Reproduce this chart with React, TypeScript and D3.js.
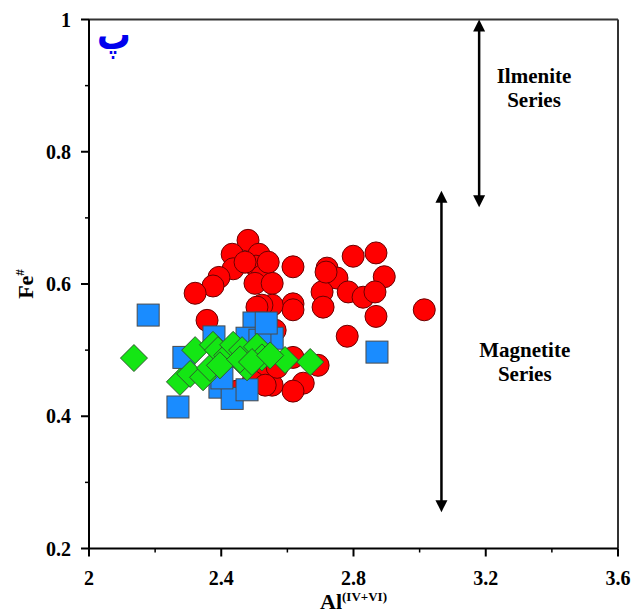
import React from "react";
import * as d3 from "d3";

// ---- data ----
const redPoints: [number, number][] = [
  [2.481, 0.666], [2.433, 0.645], [2.514, 0.645], [2.436, 0.623], [2.505, 0.627],
  [2.523, 0.612], [2.393, 0.61], [2.375, 0.597], [2.321, 0.586], [2.502, 0.601],
  [2.617, 0.626], [2.799, 0.642], [2.868, 0.647], [2.893, 0.611], [2.72, 0.624],
  [2.75, 0.609], [2.705, 0.588], [2.708, 0.565], [2.784, 0.588], [2.829, 0.58],
  [2.865, 0.588], [2.868, 0.551], [3.014, 0.561], [2.781, 0.521], [2.617, 0.57],
  [2.617, 0.561], [2.554, 0.601], [2.554, 0.568], [2.523, 0.568], [2.563, 0.53],
  [2.617, 0.489], [2.693, 0.477], [2.648, 0.45], [2.617, 0.438], [2.554, 0.447],
  [2.523, 0.465], [2.569, 0.474], [2.448, 0.438], [2.496, 0.452], [2.533, 0.447],
  [2.357, 0.545], [2.508, 0.565], [2.717, 0.618], [2.472, 0.633], [2.542, 0.633],
  [2.526, 0.503],
];
const bluePoints: [number, number][] = [
  [2.179, 0.553], [2.287, 0.489], [2.269, 0.414], [2.871, 0.497], [2.554, 0.518],
  [2.499, 0.541], [2.378, 0.52], [2.478, 0.518], [2.517, 0.515], [2.396, 0.444],
  [2.433, 0.427], [2.478, 0.44], [2.402, 0.458], [2.466, 0.491], [2.536, 0.541],
];
const greenPoints: [number, number][] = [
  [2.136, 0.488], [2.275, 0.452], [2.321, 0.5], [2.306, 0.464], [2.345, 0.459],
  [2.366, 0.473], [2.375, 0.508], [2.39, 0.5], [2.418, 0.492], [2.396, 0.477],
  [2.436, 0.508], [2.463, 0.5], [2.478, 0.474], [2.508, 0.505], [2.523, 0.489],
  [2.593, 0.485], [2.669, 0.482], [2.457, 0.486], [2.493, 0.482], [2.548, 0.492],
];
const xTicks = [2, 2.4, 2.8, 3.2, 3.6];
const xMinor = [2.2, 2.6, 3.0, 3.4];
const yTicks = [0.2, 0.4, 0.6, 0.8, 1];
const yMinor = [0.3, 0.5, 0.7, 0.9];
const xTickLabels = ["2", "2.4", "2.8", "3.2", "3.6"];
const yTickLabels = ["0.2", "0.4", "0.6", "0.8", "1"];
// double arrows: [x, yStart, yEnd]
const arrows: [number, number, number][] = [
  [3.18, 1.0, 0.716],
  [3.066, 0.741, 0.255],
];
const seriesLabels = [
  { x: 3.346, y: 0.904, lines: ["Ilmenite", "Series"] },
  { x: 3.318, y: 0.49, lines: ["Magnetite", "Series"] },
];

const W = 641;
const H = 614;
const L = 89, R = 618, T = 19.5, B = 548.5;

export default function App() {
  const x = d3.scaleLinear().domain([2, 3.6]).range([L, R]);
  const y = d3.scaleLinear().domain([0.2, 1]).range([B, T]);
  const serif = "'Liberation Serif', 'Times New Roman', Times, serif";
  const sq = 11;
  const dm = 13.5;
  const diamond = (cx: number, cy: number) =>
    `M${cx},${cy - dm}L${cx + dm},${cy}L${cx},${cy + dm}L${cx - dm},${cy}Z`;
  const ts = { fontFamily: serif, fontWeight: 700 } as React.CSSProperties;

  return (
    <svg
      width={W}
      height={H}
      style={{ position: "absolute", left: 0, top: 0, background: "#fff" }}
    >
      <rect x={0} y={0} width={W} height={H} fill="#fff" />
      {/* markers */}
      {redPoints.map((d, i) => (
        <circle key={"r" + i} cx={x(d[0])} cy={y(d[1])} r={11} fill="#ff0000" stroke="#6b0000" strokeWidth={1} />
      ))}
      {bluePoints.map((d, i) => (
        <rect key={"b" + i} x={x(d[0]) - sq} y={y(d[1]) - sq} width={sq * 2} height={sq * 2} fill="#1a8cff" stroke="#4a4a4a" strokeWidth={1} />
      ))}
      {greenPoints.map((d, i) => (
        <path key={"g" + i} d={diamond(x(d[0]), y(d[1]))} fill="#14e614" stroke="#2d5a2d" strokeWidth={1} />
      ))}

      {/* frame */}
      <line x1={L} x2={R} y1={T} y2={T} stroke="#333" strokeWidth={2} />
      <line x1={R} x2={R} y1={T} y2={B} stroke="#333" strokeWidth={2} />
      <line x1={L} x2={L} y1={T} y2={B} stroke="#000" strokeWidth={2} />
      <line x1={L} x2={R} y1={B} y2={B} stroke="#000" strokeWidth={2} />

      {/* x ticks */}
      {xTicks.map((t) => (
        <line key={"xt" + t} x1={x(t)} x2={x(t)} y1={B} y2={B + 8} stroke="#000" strokeWidth={2} />
      ))}
      {xMinor.map((t) => (
        <line key={"xm" + t} x1={x(t)} x2={x(t)} y1={B} y2={B + 4} stroke="#000" strokeWidth={1.5} />
      ))}
      {xTicks.map((t, i) => (
        <text key={"xl" + t} x={x(t)} y={585} textAnchor="middle" style={ts} fontSize={20}>
          {xTickLabels[i]}
        </text>
      ))}
      {/* y ticks */}
      {yTicks.map((t) => (
        <line key={"yt" + t} x1={L - 8} x2={L} y1={y(t)} y2={y(t)} stroke="#000" strokeWidth={2} />
      ))}
      {yMinor.map((t) => (
        <line key={"ym" + t} x1={L - 4} x2={L} y1={y(t)} y2={y(t)} stroke="#000" strokeWidth={1.5} />
      ))}
      {yTicks.map((t, i) => (
        <text key={"yl" + t} x={71} y={y(t) + 7} textAnchor="end" style={ts} fontSize={20}>
          {yTickLabels[i]}
        </text>
      ))}

      {/* axis titles */}
      <text x={(L + R) / 2} y={609} textAnchor="middle" style={ts} fontSize={22}>
        Al<tspan fontSize={13} dy={-8}>(IV+VI)</tspan>
      </text>
      <text
        transform={`translate(33, ${(T + B) / 2}) rotate(-90)`}
        textAnchor="middle"
        style={ts}
        fontSize={22}
      >
        Fe<tspan fontSize={13} dy={-9}>#</tspan>
      </text>

      {/* arrows */}
      {arrows.map((a, i) => {
        const ax = x(a[0]);
        const y0 = y(a[1]);
        const y1 = y(a[2]);
        const hl = 12, hw = 6;
        return (
          <g key={"a" + i}>
            <line x1={ax} x2={ax} y1={y0 + hl - 1} y2={y1 - hl + 1} stroke="#000" strokeWidth={2.5} />
            <path d={`M${ax},${y0}L${ax + hw},${y0 + hl}L${ax - hw},${y0 + hl}Z`} fill="#000" />
            <path d={`M${ax},${y1}L${ax + hw},${y1 - hl}L${ax - hw},${y1 - hl}Z`} fill="#000" />
          </g>
        );
      })}
      {seriesLabels.map((s, i) => (
        <text key={"s" + i} x={x(s.x)} y={y(s.y)} textAnchor="middle" style={ts} fontSize={21}>
          {s.lines.map((ln, j) => (
            <tspan key={j} x={x(s.x)} dy={j === 0 ? 0 : 24}>
              {ln}
            </tspan>
          ))}
        </text>
      ))}

      {/* panel letter */}
      <text
        transform="translate(97, 49) scale(1.05, 1.3)"
        fill="#0000ee"
        style={{ fontFamily: "DejaVu Sans", fontWeight: 700 }}
        fontSize={32}
      >
        پ
      </text>
    </svg>
  );
}
